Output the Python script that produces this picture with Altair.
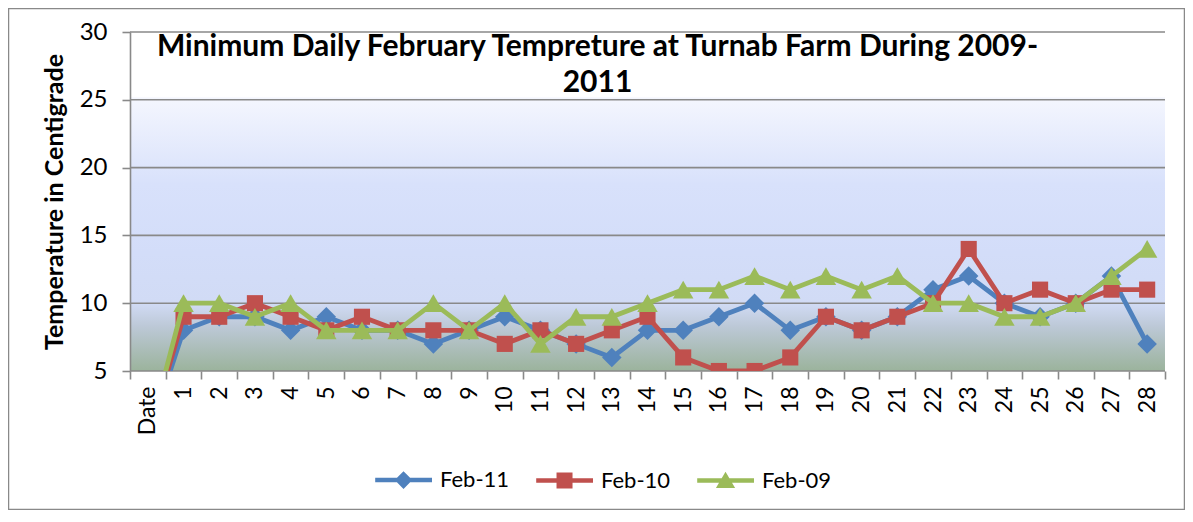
import altair as alt
import pandas as pd

# ---------------- data ----------------
days = ["Date"] + [str(i) for i in range(1, 29)]
series_names = ["Feb-11", "Feb-10", "Feb-09"]
feb11 = [0, 8, 9, 9, 8, 9, 8, 8, 7, 8, 9, 8, 7, 6, 8, 8, 9, 10, 8, 9, 8, 9, 11, 12, 10, 9, 10, 12, 7]
feb10 = [0, 9, 9, 10, 9, 8, 9, 8, 8, 8, 7, 8, 7, 8, 9, 6, 5, 5, 6, 9, 8, 9, 10, 14, 10, 11, 10, 11, 11]
feb09 = [0, 10, 10, 9, 10, 8, 8, 8, 10, 8, 10, 7, 9, 9, 10, 11, 11, 12, 11, 12, 11, 12, 10, 10, 9, 9, 10, 12, 14]
y_ticks = [5, 10, 15, 20, 25, 30]
title_lines = ["Minimum Daily February Tempreture at Turnab Farm During 2009-", "2011"]
y_title = "Temperature in Centigrade"

rows = []
for name, vals in zip(series_names, [feb11, feb10, feb09]):
    for d, v in zip(days, vals):
        rows.append({"day": d, "temp": v, "series": name})
df = pd.DataFrame(rows)
grid_df = pd.DataFrame({"temp": y_ticks})
one = pd.DataFrame({"k": [0]})

# ---------------- styling ----------------
colors = ["#4F81BD", "#C0504D", "#9BBB59"]
shapes = ["diamond", "square", "triangle-up"]
sizes = [380, 260, 420]
W, H = 1035, 339
GRAY = "#898989"
FONT = "Lato"

xscale = alt.Scale(type="band", domain=days, paddingInner=0, paddingOuter=0)
yscale = alt.Scale(domain=[5, 30], nice=False, zero=False)
cscale = alt.Scale(domain=series_names, range=colors)

xaxis = alt.Axis(
    title=None, domain=False, tickBand="extent", labelAngle=270,
    labelFont=FONT, labelFontSize=23, labelColor="black", labelPadding=7,
    tickColor=GRAY, tickWidth=1.6, tickSize=8, labelOverlap=False, zindex=1,
)
yaxis = alt.Axis(
    title=y_title, values=y_ticks, grid=False, domainColor=GRAY, domainWidth=1.6,
    tickColor=GRAY, tickWidth=1.6, tickSize=8,
    labelFont=FONT, labelFontSize=24, labelColor="black", labelPadding=15,
    titleFont=FONT, titleFontSize=25, titleFontWeight="bold", titleColor="black",
    titlePadding=12, zindex=1,
)

x_enc = alt.X("day:N", sort=days, scale=xscale, axis=xaxis, bandPosition=0.5)
y_enc = alt.Y("temp:Q", scale=yscale, axis=yaxis)

# background gradient of plot area
bg = alt.Chart(one).mark_rect(
    fill=alt.LinearGradient(
        gradient="linear", x1=0, x2=0, y1=0, y2=1,
        stops=[
            alt.GradientStop(color="#ffffff", offset=0.0),
            alt.GradientStop(color="#ffffff", offset=0.19),
            alt.GradientStop(color="#f4f6fe", offset=0.195),
            alt.GradientStop(color="#d8e1fb", offset=0.45),
            alt.GradientStop(color="#d3ddf9", offset=0.65),
            alt.GradientStop(color="#d1dbf5", offset=0.80),
            alt.GradientStop(color="#bcc8d6", offset=0.87),
            alt.GradientStop(color="#9bb39c", offset=1.0),
        ],
    )
).encode(x=alt.value(0), x2=alt.value(W), y=alt.value(0), y2=alt.value(H))

grid = alt.Chart(grid_df).mark_rule(color=GRAY, strokeWidth=1.6).encode(y=y_enc)

series_layers = []
for name, col, shp, sz in zip(series_names, colors, shapes, sizes):
    base = alt.Chart(df).transform_filter(alt.datum.series == name)
    series_layers.append(
        base.mark_line(strokeWidth=4.8, clip=True, color=col).encode(x=x_enc, y=y_enc)
    )
    series_layers.append(
        base.mark_point(shape=shp, filled=True, size=sz, opacity=1, clip=True, color=col)
        .encode(x=x_enc, y=y_enc)
    )

# legend symbols: line + marker (custom paths, unit = sqrt(size)/2)
cx = -2.56
line_p = "M-6.1,-0.28H1.0V0.28H-6.1Z"
diamond_p = line_p + f"M{cx},-1.1L{cx+1.1},0L{cx},1.1L{cx-1.1},0Z"
square_p = line_p + f"M{cx-1.0},-1.0H{cx+1.0}V1.0H{cx-1.0}Z"
tri_p = line_p + f"M{cx},-1.1L{cx+1.2},0.95L{cx-1.2},0.95Z"

leg = alt.Legend(
    title=None, orient="none", legendX=283, legendY=437, direction="horizontal",
    labelFont=FONT, labelFontSize=22, labelColor="black", labelOffset=5,
    symbolSize=256, symbolOpacity=1, columnPadding=23, padding=0,
)
legend_layer = alt.Chart(df).mark_point(filled=True, opacity=0, size=10).encode(
    x=x_enc, y=y_enc,
    color=alt.Color("series:N", scale=cscale, legend=leg),
    shape=alt.Shape("series:N", scale=alt.Scale(domain=series_names, range=[diamond_p, square_p, tri_p]), legend=leg),
)

border = alt.Chart(one).mark_rect(filled=False, stroke=GRAY, strokeWidth=1.5).encode(
    x=alt.value(-121.5), x2=alt.value(W + 19.5), y=alt.value(-23.5), y2=alt.value(H + 138.5)
)

chart = alt.layer(bg, grid, *series_layers, legend_layer, border).properties(
    width=W, height=H,
    padding={"left": 122, "top": 24, "right": 20, "bottom": 139},
    autosize=alt.AutoSizeParams(type="none"),
    title=alt.TitleParams(
        text=title_lines, font=FONT, fontSize=30, fontWeight="bold", color="black",
        anchor="middle", frame="group", dx=-50, dy=90, baseline="top", lineHeight=36, offset=0,
    ),
).configure_view(strokeWidth=0)

chart.save("out.html", embed_options={"renderer": "svg", "actions": False})
